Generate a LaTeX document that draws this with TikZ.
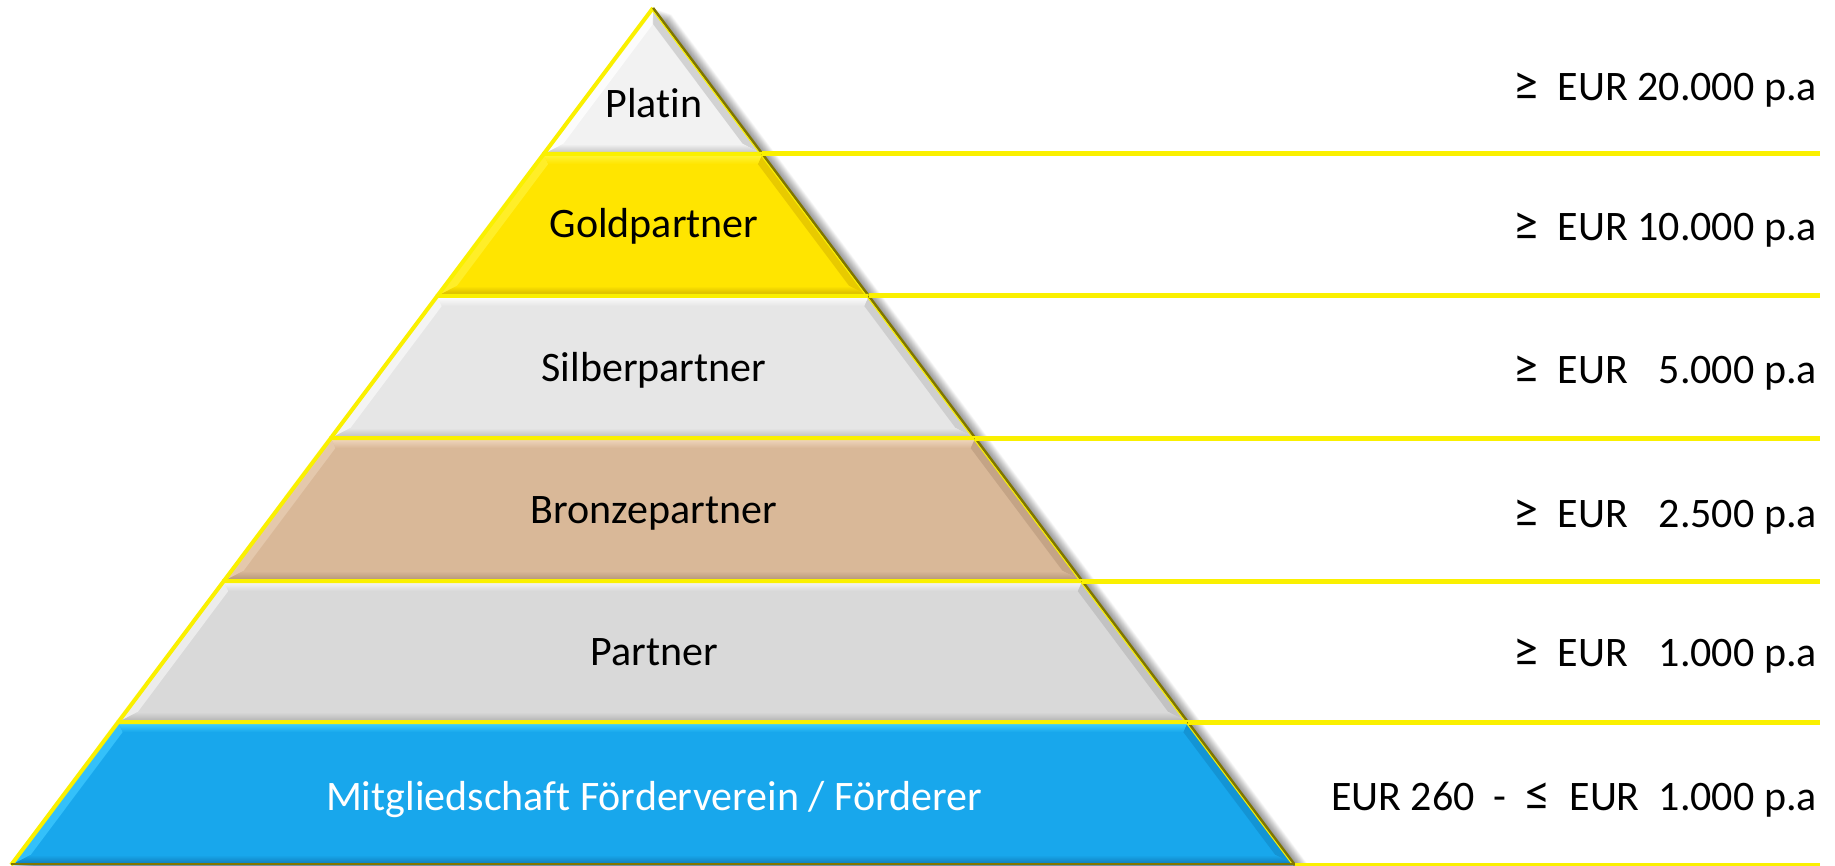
\documentclass[tikz,border=0pt]{standalone}
\usepackage{fontspec}
\setmainfont{Carlito}[Ligatures=NoCommon]
\definecolor{yl}{RGB}{250,240,0}
\definecolor{ol}{RGB}{128,118,0}
% layer colours: fill, top bevel, left bevel, right bevel, bottom bevel
\definecolor{plF}{RGB}{242,242,242}\definecolor{plT}{RGB}{255,255,255}\definecolor{plL}{RGB}{252,252,252}\definecolor{plR}{RGB}{210,210,210}\definecolor{plB}{RGB}{190,190,190}
\definecolor{goF}{RGB}{255,229,0}\definecolor{goT}{RGB}{255,246,60}\definecolor{goL}{RGB}{255,238,40}\definecolor{goR}{RGB}{232,202,0}\definecolor{goB}{RGB}{205,176,0}
\definecolor{siF}{RGB}{230,230,230}\definecolor{siT}{RGB}{255,255,255}\definecolor{siL}{RGB}{244,244,244}\definecolor{siR}{RGB}{206,206,206}\definecolor{siB}{RGB}{188,188,188}
\definecolor{brF}{RGB}{217,184,152}\definecolor{brT}{RGB}{242,218,194}\definecolor{brL}{RGB}{228,200,172}\definecolor{brR}{RGB}{196,164,134}\definecolor{brB}{RGB}{176,146,118}
\definecolor{paF}{RGB}{217,217,217}\definecolor{paT}{RGB}{248,248,248}\definecolor{paL}{RGB}{236,236,236}\definecolor{paR}{RGB}{194,194,194}\definecolor{paB}{RGB}{176,176,176}
\definecolor{miF}{RGB}{24,167,236}\definecolor{miT}{RGB}{70,214,255}\definecolor{miL}{RGB}{52,192,250}\definecolor{miR}{RGB}{20,148,212}\definecolor{miB}{RGB}{14,120,180}
% #1 ytop, #2 ybottom, #3 top inset, #4 colour prefix
\newcommand\pyrlayer[4]{%
  \pgfmathsetmacro\xa{653-0.749*(#1-8)}%
  \pgfmathsetmacro\xb{653+0.749*(#1-8)}%
  \pgfmathsetmacro\xc{653+0.749*(#2-8)}%
  \pgfmathsetmacro\xd{653-0.749*(#2-8)}%
  \pgfmathsetmacro\yti{#1+#3}%
  \pgfmathsetmacro\ybi{#2-10}%
  \pgfmathsetmacro\xai{653-0.749*(\yti-8)+12}%
  \pgfmathsetmacro\xbi{653+0.749*(\yti-8)-12}%
  \pgfmathsetmacro\xci{653+0.749*(\ybi-8)-12}%
  \pgfmathsetmacro\xdi{653-0.749*(\ybi-8)+12}%
  \fill[#4F] (\xa,#1) -- (\xb,#1) -- (\xc,#2) -- (\xd,#2) -- cycle;
  \fill[#4L] (\xd,#2) -- (\xa,#1) -- (\xai,\yti) -- (\xdi,\ybi) -- cycle;
  \fill[#4R] (\xb,#1) -- (\xc,#2) -- (\xci,\ybi) -- (\xbi,\yti) -- cycle;
  \shade[top color=#4T, bottom color=#4F] (\xa,#1) -- (\xb,#1) -- (\xbi,\yti) -- (\xai,\yti) -- cycle;
  \shade[top color=#4F, bottom color=#4B] (\xdi,\ybi) -- (\xci,\ybi) -- (\xc,#2) -- (\xd,#2) -- cycle;
  \draw[yl, line width=4] (\xd,#2) -- (\xa,#1) -- (\xb,#1);
  \draw[ol, line width=2.6] (\xb,#1) -- (\xc,#2);
  \draw[yl, line width=1] ([xshift=-2.2]\xb,#1) -- ([xshift=-2.2]\xc,#2);
}
\newcommand\bigge{{\fontsize{50}{50}\selectfont ≥}}
\newcommand\bigle{{\fontsize{50}{50}\selectfont ≤}}
\tikzset{
  lbl/.style={anchor=base, inner sep=0, font=\fontsize{42}{50}\selectfont},
  rt/.style={anchor=base east, inner sep=0, font=\fontsize{42}{50}\selectfont},
  hline/.style={yl, line width=5}
}
\begin{document}
\begin{tikzpicture}[x=1pt, y=-1pt]
\useasboundingbox (0,0) rectangle (1835,866);
\fill[white] (0,0) rectangle (1835,866);
% soft shadow
\foreach \s in {1,...,18}{
  \fill[black, opacity=0.028, shift={(\s,0.35*\s)}] (653,8) -- (1295,865) -- (11,865) -- cycle;
}
% layers
\pyrlayer{8}{154}{16}{pl}
\pyrlayer{154}{296}{10}{go}
\pyrlayer{296}{438}{10}{si}
\pyrlayer{438}{581}{10}{br}
\pyrlayer{581}{722}{10}{pa}
\pyrlayer{722}{865}{10}{mi}
\draw[ol, line width=2.5] (11,864) -- (1295,864);
% connector end points
\coordinate (r1) at (762.4,154);   \coordinate (e1) at (1820,154);
\coordinate (r2) at (868.7,296);   \coordinate (e2) at (1820,296);
\coordinate (r3) at (975.0,438);   \coordinate (e3) at (1820,438);
\coordinate (r4) at (1082.2,581);  \coordinate (e4) at (1820,581);
\coordinate (r5) at (1187.8,722);  \coordinate (e5) at (1820,722);
\coordinate (r6) at (1294.9,865);  \coordinate (e6) at (1820,865);
\foreach \i in {1,...,6}{ \draw[hline] (r\i) -- (e\i); }
% layer labels
\node[lbl] (platin) at (654,118) {Platin};
\node[lbl] (gold) at (654,238) {Goldpartner};
\node[lbl] (silber) at (654,381) {Silberpartner};
\node[lbl] (bronze) at (654,523) {Bronzepartner};
\node[lbl] (partner) at (654,665) {Partner};
\node[lbl, text=white] (mitglied) at (654,810) {Mitgliedschaft Förderverein / Förderer};
% amounts
\node[rt] (amt1) at (1817,101) {\bigge~~EUR 20.000 p.a};
\node[rt] (amt2) at (1817,241) {\bigge~~EUR 10.000 p.a};
\node[rt] (amt3) at (1817,383) {\bigge~~EUR \phantom{0}5.000 p.a};
\node[rt] (amt4) at (1817,527) {\bigge~~EUR \phantom{0}2.500 p.a};
\node[rt] (amt5) at (1817,666) {\bigge~~EUR \phantom{0}1.000 p.a};
\node[rt] (amt6) at (1817,810) {EUR 260~~-~~\bigle~~EUR~~1.000 p.a};
\end{tikzpicture}
\end{document}
